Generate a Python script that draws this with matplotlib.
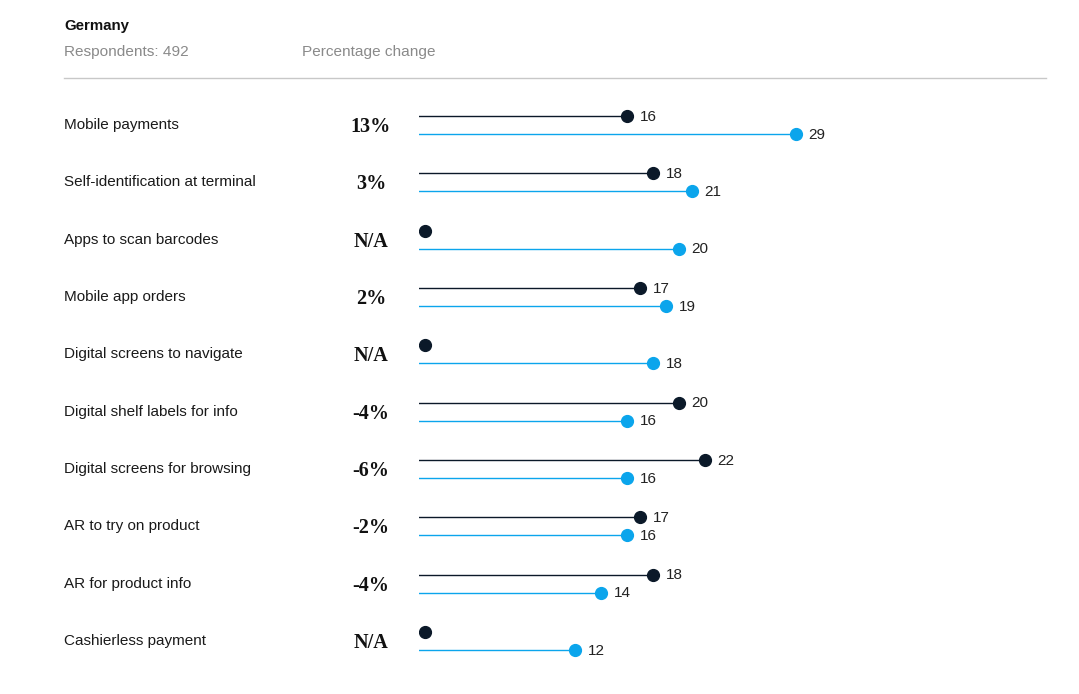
import numpy as np
import matplotlib
matplotlib.use("Agg")
import matplotlib.pyplot as plt
from matplotlib.transforms import blended_transform_factory, offset_copy

# data
categories = ["Mobile payments", "Self-identification at terminal", "Apps to scan barcodes",
              "Mobile app orders", "Digital screens to navigate", "Digital shelf labels for info",
              "Digital screens for browsing", "AR to try on product", "AR for product info",
              "Cashierless payment"]
prev_vals = [16, 18, None, 17, None, 20, 22, 17, 18, None]
curr_vals = [29, 21, 20, 19, 18, 16, 16, 16, 14, 12]
pct_change = ["13%", "3%", "N/A", "2%", "N/A", "-4%", "-6%", "-2%", "-4%", "N/A"]

DARK = "#0b1929"
BLUE = "#0ba5ec"
GREY = "#8a8a8a"
NA_POS = 0.45  # where the missing dot sits

W, H = 1079, 694
fig = plt.figure(figsize=(W / 100, H / 100), dpi=100)
ax = fig.add_axes([419 / W, 1 - 669.7 / H, 650 / W, (669.7 - 96.3) / H])
ax.set_xlim(0, 650 / 13)
ax.set_ylim(len(categories) - 0.5, -0.5)
ax.axis("off")

off = 0.157
for i, (p, c) in enumerate(zip(prev_vals, curr_vals)):
    yd, yb = i - off, i + off
    if p is None:
        ax.plot([NA_POS], [yd], "o", color=DARK, ms=8.5, zorder=3)
    else:
        ax.plot([0, p], [yd, yd], color=DARK, lw=1)
        ax.plot([p], [yd], "o", color=DARK, ms=8.5, zorder=3)
        ax.annotate(str(p), (p, yd), xytext=(9, -0.5), textcoords="offset points",
                    ha="left", va="center", fontsize=11, color="#222222",
                    family="Liberation Sans")
    ax.plot([0, c], [yb, yb], color=BLUE, lw=1)
    ax.plot([c], [yb], "o", color=BLUE, ms=8.5, zorder=3)
    ax.annotate(str(c), (c, yb), xytext=(9, -0.5), textcoords="offset points",
                ha="left", va="center", fontsize=11, color="#222222",
                family="Liberation Sans")

tr = blended_transform_factory(fig.transFigure, ax.transData)
tr_pct = offset_copy(tr, fig=fig, y=-2, units="dots")
for i, (name, pc) in enumerate(zip(categories, pct_change)):
    fig.text(64 / W, i, name, transform=tr, ha="left", va="center", fontsize=11,
             color="#1a1a1a", family="Liberation Sans")
    fig.text(371 / W, i, pc, transform=tr_pct, ha="center", va="center", fontsize=14.5,
             fontweight="bold", color="#111111", family="Liberation Serif")

# header
fig.text(64 / W, 1 - 26 / H, "Germany", ha="left", va="center", fontsize=10.8,
         fontweight="bold", color="#111111", family="Liberation Sans")
fig.text(64 / W, 1 - 52 / H, "Respondents: 492", ha="left", va="center", fontsize=11.1,
         color=GREY, family="Liberation Sans")
fig.text(302 / W, 1 - 52 / H, "Percentage change", ha="left", va="center", fontsize=11.1,
         color=GREY, family="Liberation Sans")
fig.add_artist(plt.Line2D([64 / W, 1046 / W], [1 - 78 / H, 1 - 78 / H],
                          transform=fig.transFigure, color="#c8c8c8", lw=1))

fig.savefig("out.png", dpi=100)
